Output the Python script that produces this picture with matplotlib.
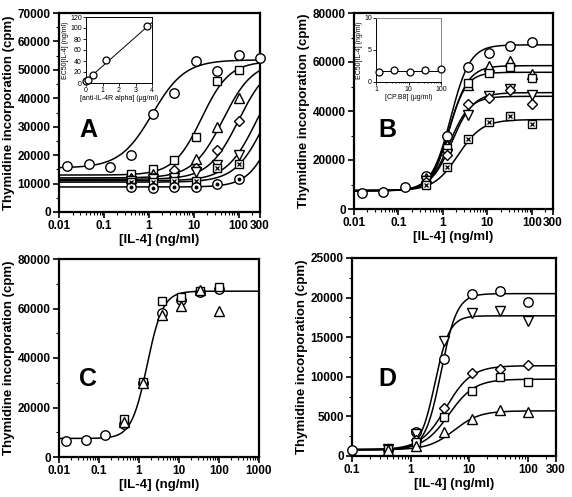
import numpy as np
import matplotlib
matplotlib.use("Agg")
import matplotlib.pyplot as plt
from matplotlib.ticker import LogLocator, NullFormatter, FixedLocator, MultipleLocator

plt.rcParams['font.family'] = ['Liberation Sans', 'DejaVu Sans']

# ---- panel A data ----
a_x = [0.015, 0.046, 0.14, 0.41, 1.23, 3.7, 11, 33, 100, 300]
a_x6 = [0.41, 1.23, 3.7, 11, 33, 100]
a_circle = [16200, 16800, 16000, 20200, 34500, 42000, 53000, 49500, 55300, 54000]
a_square = [13500, 15000, 18200, 26500, 46000, 50000]
a_tri = [12000, 13500, 14000, 18800, 30000, 40000]
a_diamond = [11500, 12000, 14800, 15500, 21800, 32000]
a_dtri = [11000, 11500, 12000, 14000, 16500, 20000]
a_boxx = [10500, 10500, 11000, 11000, 15500, 17000]
a_dotc = [8800, 8600, 8800, 8800, 10000, 11700]
# fitted curve parameters: bottom, top, ec50, hill
a_fits = [(15500, 53500, 1.2, 1.2), (13000, 53000, 15, 1.4), (12000, 53000, 45, 1.3),
          (11500, 53000, 100, 1.3), (11000, 53000, 250, 1.3), (10500, 53000, 400, 1.3),
          (8800, 53000, 700, 1.5)]
a_in_x = [0, 0.12, 0.4, 1.2, 3.7]
a_in_y = [3, 5, 15, 41, 103]
a_in_line = [(0, 4), (4, 110)]

# ---- panel B data ----
b_x = [0.015, 0.046, 0.14, 0.41, 1.23, 3.7, 11, 33, 100]
b_x6 = [0.41, 1.23, 3.7, 11, 33, 100]
b_circle = [6500, 7000, 9000, 13500, 30000, 58000, 63500, 66500, 68000]
b_tri = [12500, 26000, 50500, 58500, 60500, 55000]
b_square = [12000, 25000, 51500, 55500, 58000, 53500]
b_dtri = [11500, 22500, 38500, 46000, 49000, 46500]
b_diamond = [11000, 22000, 43000, 45500, 48500, 43000]
b_boxx = [10000, 17000, 28500, 35500, 38000, 34500]
b_fits = [(7500, 67000, 1.5, 2.0), (7500, 58500, 1.4, 2.0), (7500, 55800, 1.35, 2.2),
          (7500, 47500, 1.6, 1.8), (7500, 46000, 1.4, 1.9), (7500, 36500, 2.2, 1.6)]
b_in_x = [1.23, 3.7, 11, 33, 100]
b_in_y = [1.5, 1.9, 1.5, 1.8, 2.0]
b_in_level = 1.75

# ---- panel C data ----
c_x = [0.015, 0.046, 0.14, 0.41, 1.23, 3.7, 11, 33, 100]
c_x6 = [0.41, 1.23, 3.7, 11, 33, 100]
c_circle = [6500, 7000, 9000, 13500, 30000, 58000, 63500, 66500, 68000]
c_square = [15500, 30500, 63000, 64500, 67000, 68500]
c_tri = [14000, 30000, 57500, 61000, 67500, 59000]
c_fit = (7500, 67000, 1.6, 2.2)

# ---- panel D data ----
d_x7 = [0.1, 0.41, 1.23, 3.7, 11, 33, 100]
d_x6 = [0.41, 1.23, 3.7, 11, 33, 100]
d_circle = [700, 800, 3000, 12300, 20400, 20800, 19500]
d_dtri = [900, 2800, 14500, 18000, 18300, 17000]
d_diamond = [900, 2000, 6000, 10500, 11000, 11500]
d_square = [850, 1800, 4900, 8200, 10000, 9300]
d_tri = [800, 1300, 3000, 4700, 5800, 5500]
d_fits = [(800, 20500, 3.3, 3.2), (800, 17700, 2.6, 3.5), (800, 11400, 4.0, 2.0),
          (800, 9700, 4.5, 2.0), (800, 5700, 5.5, 2.0)]

W, H = 572, 497
fig = plt.figure(figsize=(W / 100, H / 100), dpi=100)


def ax_px(l, r, t, b):
    return fig.add_axes([l / W, 1 - b / H, (r - l) / W, (b - t) / H])


def logistic(x, bottom, top, ec50, hill):
    return bottom + (top - bottom) / (1 + (ec50 / x) ** hill)


MS = 6.8


def pts(ax, x, y, kind):
    kw = dict(ls='none', mfc='white', mec='black', mew=1.0, ms=MS, zorder=4, clip_on=False)
    if kind == 'o':
        ax.plot(x, y, marker='o', **kw)
    elif kind == 's':
        ax.plot(x, y, marker='s', **dict(kw, ms=MS - 0.5))
    elif kind == '^':
        ax.plot(x, y, marker='^', **kw)
    elif kind == 'v':
        ax.plot(x, y, marker='v', **kw)
    elif kind == 'd':
        ax.plot(x, y, marker='D', **dict(kw, ms=MS - 1.5))
    elif kind == 'boxx':
        ax.plot(x, y, marker='s', **dict(kw, ms=MS - 0.5))
        ax.plot(x, y, marker='x', ls='none', mec='black', mew=0.9, ms=3.5, zorder=5, clip_on=False)
    elif kind == 'dotc':
        ax.plot(x, y, marker='o', **kw)
        ax.plot(x, y, marker='o', ls='none', mfc='black', mec='black', ms=1.8, zorder=5, clip_on=False)


def curve(ax, xmin, xmax, p):
    xx = np.logspace(np.log10(xmin), np.log10(xmax), 300)
    ax.plot(xx, logistic(xx, *p), color='black', lw=1.1, zorder=3)


def style(ax, xmin, xmax, xticks, xlabels, ymax, ystep):
    ax.set_xscale('log')
    ax.set_xlim(xmin, xmax)
    ax.set_ylim(0, ymax)
    ax.xaxis.set_major_locator(FixedLocator(xticks))
    ax.set_xticklabels(xlabels)
    ax.xaxis.set_minor_locator(LogLocator(base=10, subs=np.arange(2, 10), numticks=20))
    ax.xaxis.set_minor_formatter(NullFormatter())
    ax.yaxis.set_major_locator(MultipleLocator(ystep))
    ax.yaxis.set_minor_locator(MultipleLocator(ystep / 2))
    for s in ax.spines.values():
        s.set_linewidth(1.6)
    ax.tick_params(which='major', direction='out', length=4, width=1.2,
                   labelsize=8.5, pad=2)
    ax.tick_params(which='minor', direction='out', length=2, width=0.8)
    for lab in ax.get_xticklabels() + ax.get_yticklabels():
        lab.set_fontweight('bold')
    ax.set_xlabel('[IL-4] (ng/ml)', fontsize=9.5, fontweight='bold', labelpad=1)
    ax.set_ylabel('Thymidine incorporation (cpm)', fontsize=9.5, fontweight='bold', labelpad=2)


def inset_style(ax):
    ax.tick_params(labelsize=5, length=2, width=0.6, pad=1)
    ax.tick_params(which='minor', length=1, width=0.5)
    for s in ax.spines.values():
        s.set_linewidth(0.7)


# ---------- A ----------
axA = ax_px(59, 260, 13, 212)
style(axA, 0.01, 300, [0.01, 0.1, 1, 10, 100, 300], ['0.01', '0.1', '1', '10', '100', '300'], 70000, 10000)
for p in a_fits:
    curve(axA, 0.01, 300, p)
pts(axA, a_x, a_circle, 'o')
pts(axA, a_x6, a_square, 's')
pts(axA, a_x6, a_tri, '^')
pts(axA, a_x6, a_diamond, 'd')
pts(axA, a_x6, a_dtri, 'v')
pts(axA, a_x6, a_boxx, 'boxx')
pts(axA, a_x6, a_dotc, 'dotc')

inA = ax_px(86, 152, 17, 83)
inA.set_xlim(0, 4)
inA.set_ylim(0, 120)
inA.plot([a_in_line[0][0], a_in_line[1][0]], [a_in_line[0][1], a_in_line[1][1]], color='black', lw=0.7)
inA.plot(a_in_x, a_in_y, 'o', mfc='white', mec='black', mew=0.9, ms=5, clip_on=False, zorder=4)
inA.xaxis.set_major_locator(MultipleLocator(1))
inA.yaxis.set_major_locator(MultipleLocator(20))
inset_style(inA)
inA.set_xlabel('[anti-IL-4R alpha] (\u03bcg/ml)', fontsize=5, labelpad=0.5)
inA.set_ylabel('EC50[IL-4] (ng/ml)', fontsize=5, labelpad=1)

# ---------- B ----------
axB = ax_px(354, 553, 13, 209)
style(axB, 0.01, 300, [0.01, 0.1, 1, 10, 100, 300], ['0.01', '0.1', '1', '10', '100', '300'], 80000, 20000)
for p in b_fits:
    curve(axB, 0.01, 300, p)
pts(axB, b_x, b_circle, 'o')
pts(axB, b_x6, b_tri, '^')
pts(axB, b_x6, b_square, 's')
pts(axB, b_x6, b_dtri, 'v')
pts(axB, b_x6, b_diamond, 'd')
pts(axB, b_x6, b_boxx, 'boxx')

inB = ax_px(376, 441, 18, 82)
inB.set_xscale('log')
inB.set_xlim(1, 100)
inB.set_ylim(0, 10)
inB.plot([1, 100], [b_in_level, b_in_level], color='black', lw=0.7)
inB.plot(b_in_x, b_in_y, 'o', mfc='white', mec='black', mew=0.9, ms=5, clip_on=False, zorder=4)
inB.xaxis.set_major_locator(FixedLocator([1, 10, 100]))
inB.set_xticklabels(['1', '10', '100'])
inB.xaxis.set_minor_locator(LogLocator(base=10, subs=np.arange(2, 10), numticks=10))
inB.xaxis.set_minor_formatter(NullFormatter())
inB.yaxis.set_major_locator(MultipleLocator(5))
inset_style(inB)
inB.spines['top'].set_color('#888888')
inB.spines['right'].set_color('#888888')
inB.set_xlabel('[CP.B8] (\u03bcg/ml)', fontsize=5, labelpad=0.5)
inB.set_ylabel('EC50[IL-4] (ng/ml)', fontsize=5, labelpad=1)

# ---------- C ----------
axC = ax_px(59, 259, 259, 457)
style(axC, 0.01, 1000, [0.01, 0.1, 1, 10, 100, 1000], ['0.01', '0.1', '1', '10', '100', '1000'], 80000, 20000)
curve(axC, 0.01, 1000, c_fit)
pts(axC, c_x, c_circle, 'o')
pts(axC, c_x6, c_square, 's')
pts(axC, c_x6, c_tri, '^')

# ---------- D ----------
axD = ax_px(352, 556, 258, 456)
style(axD, 0.1, 300, [0.1, 1, 10, 100, 300], ['0.1', '1', '10', '100', '300'], 25000, 5000)
for p in d_fits:
    curve(axD, 0.1, 300, p)
pts(axD, d_x7, d_circle, 'o')
pts(axD, d_x6, d_dtri, 'v')
pts(axD, d_x6, d_diamond, 'd')
pts(axD, d_x6, d_square, 's')
pts(axD, d_x6, d_tri, '^')

# panel letters
for letter, cx, by in [('A', 88, 137), ('B', 387, 137), ('C', 88, 386), ('D', 387, 386)]:
    fig.text(cx / W, 1 - by / H, letter, fontsize=18, fontweight='bold',
             ha='center', va='baseline')

fig.savefig('out.png', dpi=100)
